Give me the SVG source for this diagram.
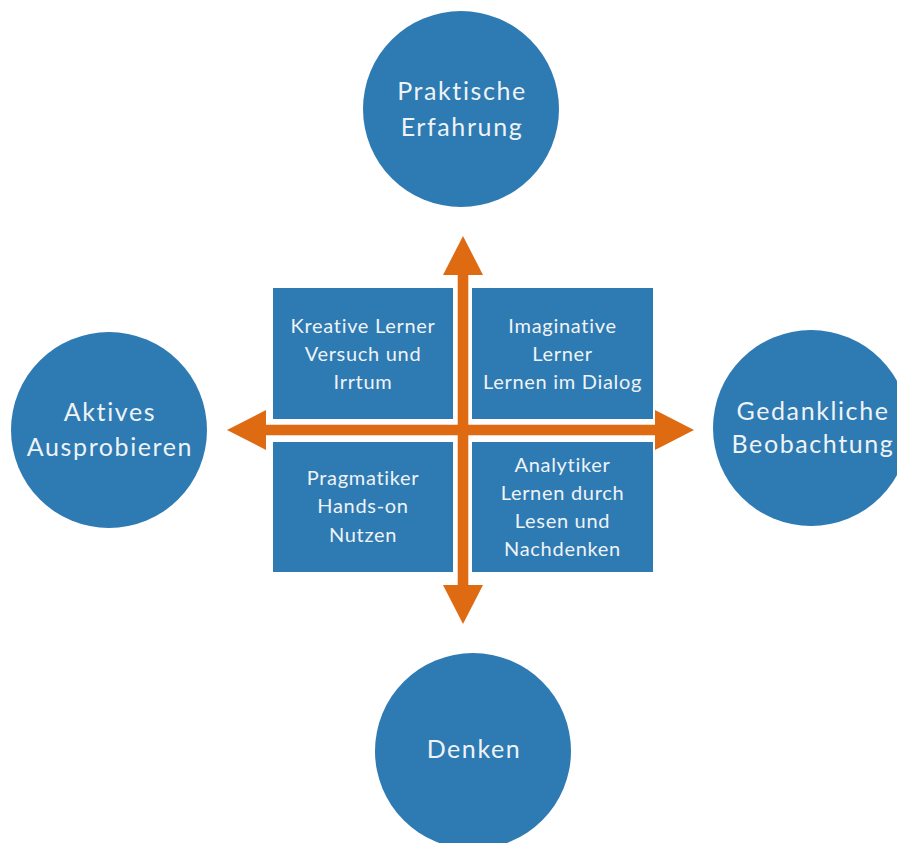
<svg xmlns="http://www.w3.org/2000/svg" width="897" height="843" viewBox="0 0 897 843">
  <defs>
    <marker id="head" viewBox="0 0 40 40" refX="0" refY="20" markerWidth="40" markerHeight="40" markerUnits="userSpaceOnUse" orient="auto-start-reverse">
      <path d="M0,0 L39,20 L0,40 Z" fill="#DE6A12"/>
    </marker>
  </defs>
  <style>
    .circ { fill: #2E7AB2; }
    .box { fill: #2E7AB2; }
    .ct { font-family: Lato, "Noto Sans", sans-serif; font-size: 25px; letter-spacing: 1.6px; fill: #EEF3F6; text-anchor: middle; }
    .bt { font-family: Lato, "Noto Sans", sans-serif; font-size: 20px; letter-spacing: 0.7px; fill: #EEF3F6; text-anchor: middle; }
    .shaft { stroke: #DE6A12; stroke-width: 10.6; fill: none; }
  </style>
  <rect width="897" height="843" fill="#FFFFFF"/>

  <g id="node-praktische">
    <circle class="circ" cx="461" cy="109" r="98"/>
    <text class="ct" x="462" y="100">Praktische</text>
    <text class="ct" x="462" y="136">Erfahrung</text>
  </g>
  <g id="node-aktives">
    <circle class="circ" cx="109" cy="430" r="98"/>
    <text class="ct" x="110" y="421">Aktives</text>
    <text class="ct" x="110" y="456">Ausprobieren</text>
  </g>
  <g id="node-gedankliche">
    <circle class="circ" cx="811" cy="428" r="98"/>
    <text class="ct" x="813" y="420">Gedankliche</text>
    <text class="ct" x="813" y="453">Beobachtung</text>
  </g>
  <g id="node-denken">
    <circle class="circ" cx="473" cy="751" r="98"/>
    <text class="ct" x="474" y="758">Denken</text>
  </g>

  <g id="node-kreative">
    <rect class="box" x="273" y="288" width="180" height="131"/>
    <text class="bt" x="363" y="333">Kreative Lerner</text>
    <text class="bt" x="363" y="361">Versuch und</text>
    <text class="bt" x="363" y="389">Irrtum</text>
  </g>
  <g id="node-imaginative">
    <rect class="box" x="472" y="288" width="181" height="131"/>
    <text class="bt" x="562.5" y="333">Imaginative</text>
    <text class="bt" x="562.5" y="361">Lerner</text>
    <text class="bt" x="562.5" y="389">Lernen im Dialog</text>
  </g>
  <g id="node-pragmatiker">
    <rect class="box" x="273" y="442" width="180" height="130"/>
    <text class="bt" x="363" y="485">Pragmatiker</text>
    <text class="bt" x="363" y="513">Hands-on</text>
    <text class="bt" x="363" y="542">Nutzen</text>
  </g>
  <g id="node-analytiker">
    <rect class="box" x="472" y="442" width="181" height="130"/>
    <text class="bt" x="562.5" y="472">Analytiker</text>
    <text class="bt" x="562.5" y="500">Lernen durch</text>
    <text class="bt" x="562.5" y="528">Lesen und</text>
    <text class="bt" x="562.5" y="556">Nachdenken</text>
  </g>

  <g id="connectors">
    <line class="shaft" x1="266" y1="430" x2="655" y2="430" marker-start="url(#head)" marker-end="url(#head)"/>
    <line class="shaft" x1="463" y1="585" x2="463" y2="275" marker-start="url(#head)" marker-end="url(#head)"/>
  </g>
</svg>
